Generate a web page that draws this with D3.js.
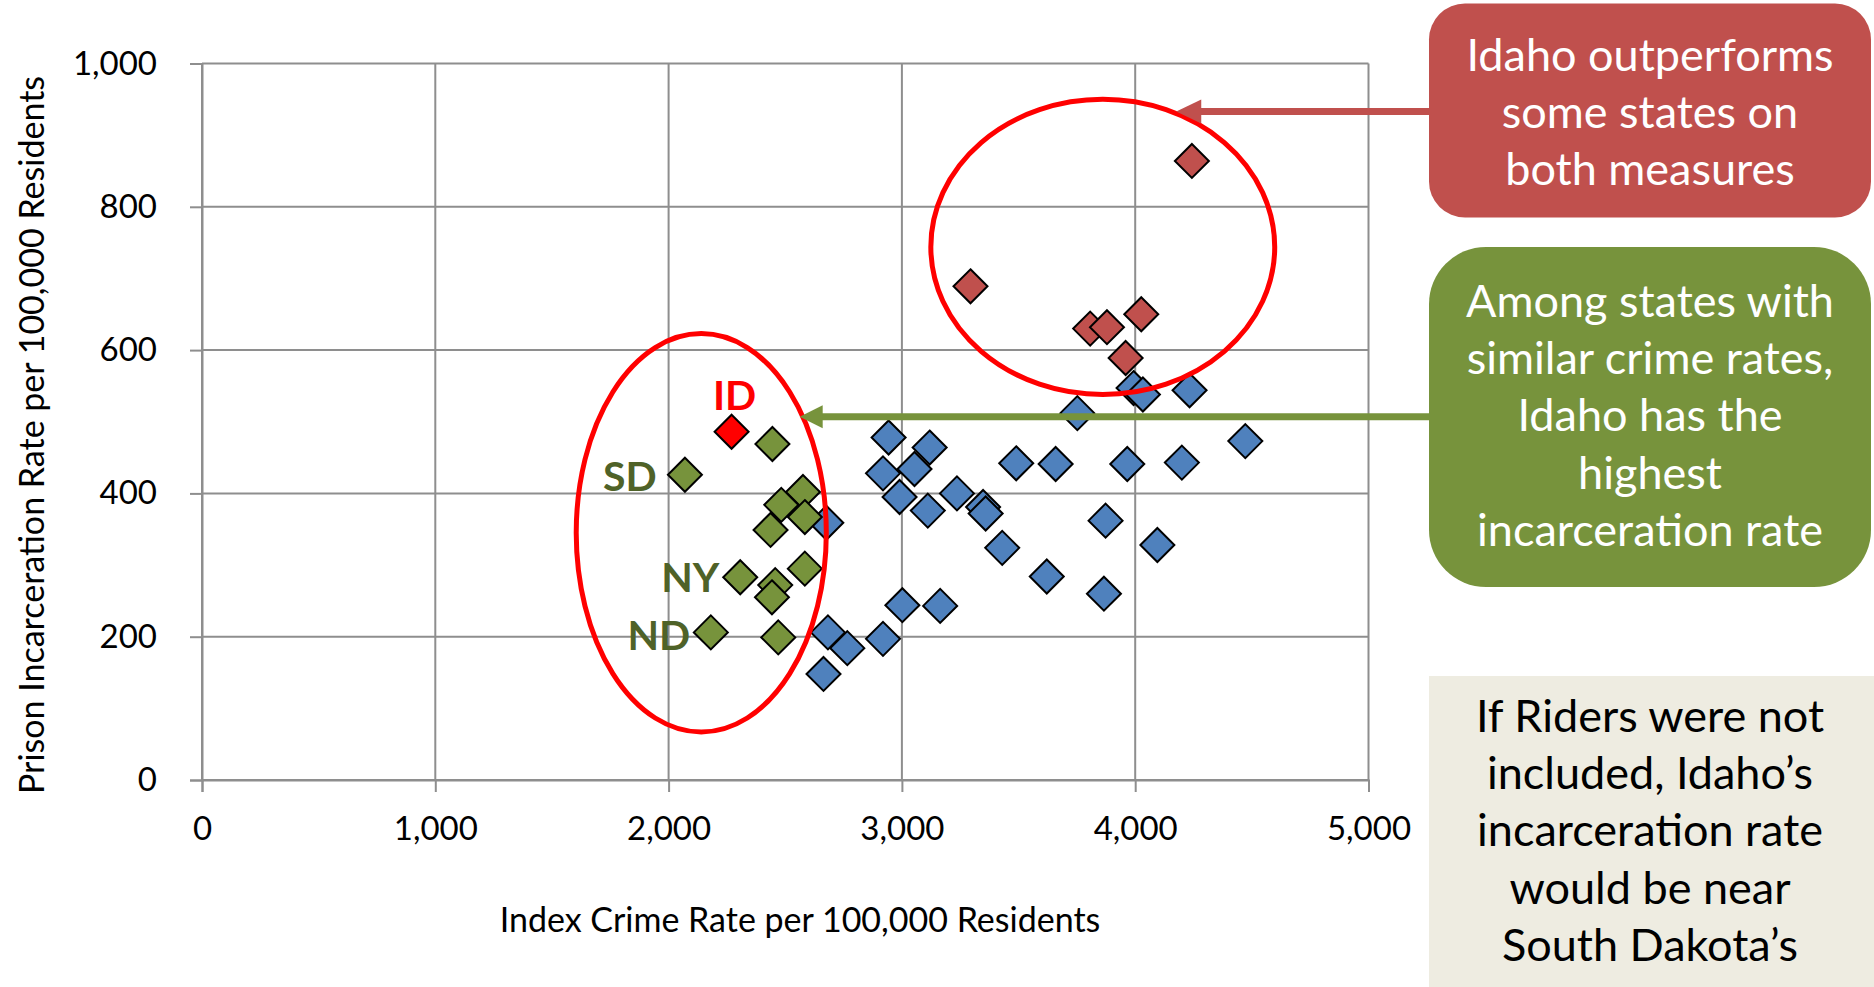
<!DOCTYPE html>
<html><head><meta charset="utf-8">
<script src="https://cdn.jsdelivr.net/npm/d3@7"></script>
<style>
html,body{margin:0;padding:0;background:#fff;}
svg{display:block;}
text{font-family:Lato,"Open Sans",sans-serif;}
</style></head>
<body>
<svg id="chart" width="1874" height="987"></svg>
<script>
// ---- data (Index crime rate, prison incarceration rate per 100,000) ----
const xTicks = [0, 1000, 2000, 3000, 4000, 5000];
const yTicks = [0, 200, 400, 600, 800, 1000];

const blueCrime  = [2676, 2683, 2766, 2919, 2664, 3002, 3164, 2943, 3119, 2919, 3054, 2990, 3111, 3236, 3348, 3359, 3993, 4033, 4233, 3752, 4472, 3490, 3659, 3966, 4200, 3430, 3621, 3873, 4095, 3866];
const bluePrison = [ 359,  206,  184,  197,  148,  244,  243,  478,  464,  428,  434,  395,  376,  400,  381,  372,  547,  538,  544,  512,  473,  442,  441,  441,  443,  324,  284,  362,  328,  260];

const redCrime  = [4243, 3294, 3807, 3879, 4026, 3959];
const redPrison = [ 864,  689,  630,  632,  650,  589];

const greenCrime  = [2445, 2070, 2576, 2483, 2584, 2437, 2307, 2584, 2457, 2443, 2181, 2470];
const greenPrison = [ 469,  426,  402,  384,  367,  349,  283,  295,  272,  255,  206,  199];

const idahoCrime = 2270, idahoPrison = 486;

const stateLabels = ["ID", "SD", "NY", "ND"];
const labelCrime  = [2270, 2070, 2307, 2181];
const labelPrison = [ 486,  426,  283,  206];

const xTitle = "Index Crime Rate per 100,000 Residents";
const yTitle = "Prison Incarceration Rate per 100,000 Residents";

const redBoxLines   = ["Idaho outperforms", "some states on", "both measures"];
const greenBoxLines = ["Among states with", "similar crime rates,", "Idaho has the", "highest", "incarceration rate"];
const beigeBoxLines = ["If Riders were not", "included, Idaho\u2019s", "incarceration rate", "would be near", "South Dakota\u2019s"];

// ellipses in data units: [cx, cy, rx, ry]
const redEllipse   = [3861, 744, 737, 206];
const greenEllipse = [2140, 345, 536, 278];
// arrow tips in data units
const redArrowTip   = [4176, 933];
const greenArrowTip = [2562, 507];

// ---- drawing ----
const svg = d3.select("#chart");
const x = d3.scaleLinear().domain([0, 5000]).range([202, 1368.5]);
const y = d3.scaleLinear().domain([0, 1000]).range([780, 63.5]);

const C = {
  blue: "#4F81BD", red: "#C0504D", green: "#77933C", id: "#FF0000",
  dkgreen: "#4F6228", grid: "#8E8E8E", beige: "#EEECE1"
};

// gridlines
const g = svg.append("g");
g.selectAll(".gx").data(xTicks).join("line")
  .attr("x1", d => x(d)).attr("x2", d => x(d))
  .attr("y1", y(0)).attr("y2", y(1000))
  .attr("stroke", C.grid).attr("stroke-width", 2);
g.selectAll(".gy").data(yTicks).join("line")
  .attr("x1", x(0)).attr("x2", x(5000))
  .attr("y1", d => y(d)).attr("y2", d => y(d))
  .attr("stroke", C.grid).attr("stroke-width", 2);

// axes
const fmt = d3.format(",");
const xAxis = svg.append("g").attr("transform", `translate(0,${y(0)})`)
  .call(d3.axisBottom(x).tickValues(xTicks).tickFormat(fmt).tickSize(12).tickPadding(25));
const yAxis = svg.append("g").attr("transform", `translate(${x(0)},0)`)
  .call(d3.axisLeft(y).tickValues(yTicks).tickFormat(fmt).tickSize(12).tickPadding(33));
[xAxis, yAxis].forEach(a => {
  a.select(".domain").attr("stroke", C.grid).attr("stroke-width", 2);
  a.selectAll(".tick line").attr("stroke", C.grid).attr("stroke-width", 2);
  a.selectAll(".tick text").attr("fill", "#000").style("font-size", "33px")
    .style("font-family", "Lato, sans-serif");
});

// axis titles
svg.append("text").attr("x", 800).attr("y", 932).attr("text-anchor", "middle")
  .style("font-size", "34px").attr("fill", "#000").text(xTitle);
svg.append("text").attr("transform", "translate(30,435) rotate(-90)")
  .attr("text-anchor", "middle").attr("dominant-baseline", "central")
  .style("font-size", "34px").attr("fill", "#000").text(yTitle);

// diamond markers
const diamond = "M0,-17L17,0L0,17L-17,0Z";
function drawSeries(xs, ys, fill) {
  svg.append("g").selectAll("path").data(xs.map((d, i) => [d, ys[i]])).join("path")
    .attr("d", diamond)
    .attr("transform", d => `translate(${x(d[0])},${y(d[1])})`)
    .attr("fill", fill).attr("stroke", "#000").attr("stroke-width", 2);
}
drawSeries(blueCrime, bluePrison, C.blue);
drawSeries(redCrime, redPrison, C.red);
drawSeries(greenCrime, greenPrison, C.green);
drawSeries([idahoCrime], [idahoPrison], C.id);

// state labels
const labelOffsets = [[3, -22], [-55, 16], [-50, 15], [-52, 18]];
svg.append("g").selectAll("text").data(stateLabels).join("text")
  .attr("x", (d, i) => x(labelCrime[i]) + labelOffsets[i][0])
  .attr("y", (d, i) => y(labelPrison[i]) + labelOffsets[i][1])
  .attr("text-anchor", "middle")
  .style("font-size", "41px").style("font-weight", "bold")
  .attr("fill", d => d === "ID" ? C.id : C.dkgreen)
  .text(d => d);

// ellipses
[redEllipse, greenEllipse].forEach(e => {
  svg.append("ellipse")
    .attr("cx", x(e[0])).attr("cy", y(e[1]))
    .attr("rx", x(e[0] + e[2]) - x(e[0])).attr("ry", y(e[1] - e[3]) - y(e[1]))
    .attr("fill", "none").attr("stroke", C.id).attr("stroke-width", 5);
});

// boxes
const boxX = 1429, boxW = 442;
function box(top, h, r, fill, lines, color, firstBaseline) {
  svg.append("rect").attr("x", boxX).attr("y", top).attr("width", boxW).attr("height", h)
    .attr("rx", r).attr("ry", r).attr("fill", fill);
  svg.append("g").selectAll("text").data(lines).join("text")
    .attr("x", boxX + boxW / 2).attr("y", (d, i) => firstBaseline + i * 57.2)
    .attr("text-anchor", "middle").style("font-size", "45px").attr("fill", color)
    .text(d => d);
}
box(3.5, 214, 36, C.red, redBoxLines, "#fff", 71);
box(247, 340, 57, C.green, greenBoxLines, "#fff", 317);
svg.append("rect").attr("x", boxX).attr("y", 676).attr("width", 1874 - boxX).attr("height", 987 - 676)
  .attr("fill", C.beige);
svg.append("g").selectAll("text").data(beigeBoxLines).join("text")
  .attr("x", boxX + boxW / 2).attr("y", (d, i) => 732 + i * 57.2)
  .attr("text-anchor", "middle").style("font-size", "45px").attr("fill", "#000")
  .text(d => d);

// arrows
function arrow(tip, color, headLen, headHalf) {
  const tx = x(tip[0]), ty = y(tip[1]);
  svg.append("line").attr("x1", boxX).attr("x2", tx + headLen - 2).attr("y1", ty).attr("y2", ty)
    .attr("stroke", color).attr("stroke-width", 7);
  svg.append("path")
    .attr("d", `M${tx},${ty}L${tx + headLen},${ty - headHalf}L${tx + headLen},${ty + headHalf}Z`)
    .attr("fill", color);
}
arrow(redArrowTip, C.red, 25, 12);
arrow(greenArrowTip, C.green, 23, 11.5);
</script>
</body></html>
